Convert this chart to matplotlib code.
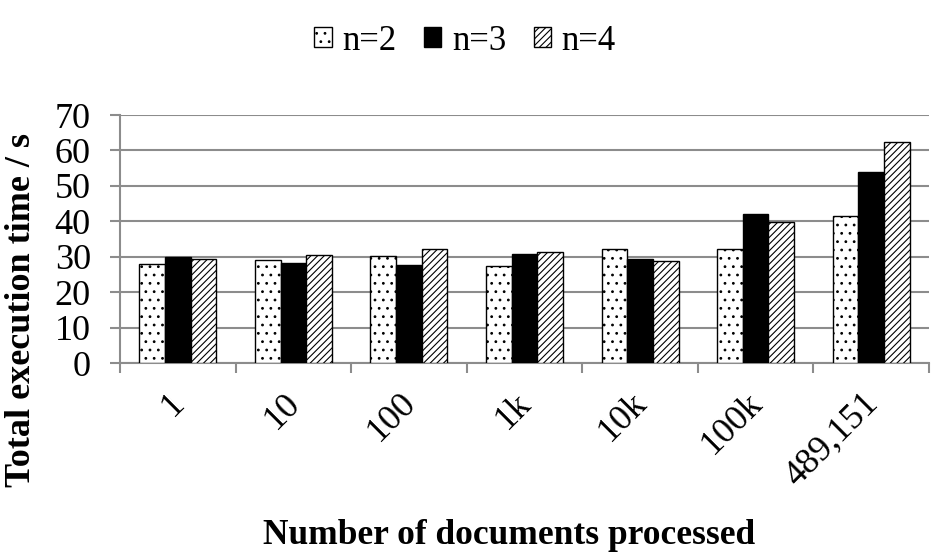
import matplotlib
matplotlib.use("Agg")
import matplotlib.pyplot as plt
import matplotlib.transforms as mtransforms
import numpy as np

# data
categories = ["1", "10", "100", "1k", "10k", "100k", "489,151"]
series_names = ["n=2", "n=3", "n=4"]
n2 = [28.0, 29.0, 30.2, 27.4, 32.1, 32.1, 41.4]
n3 = [30.0, 28.2, 27.8, 30.8, 29.4, 42.1, 53.8]
n4 = [29.3, 30.4, 32.1, 31.3, 28.7, 39.7, 62.3]
y_ticks = [0, 10, 20, 30, 40, 50, 60, 70]

plt.rcParams["font.family"] = ["Liberation Serif", "DejaVu Serif"]
plt.rcParams["hatch.linewidth"] = 0.8

fig = plt.figure(figsize=(9.51, 5.58), dpi=100)
ax = fig.add_axes([120 / 951, 1 - 363 / 558, 809 / 951, 248 / 558])

x = np.arange(len(categories))
w = 0.222
styles = [
    dict(facecolor="white", hatch=".."),
    dict(facecolor="black", hatch=None),
    dict(facecolor="white", hatch="/////"),
]
for i, (vals, name, st) in enumerate(zip([n2, n3, n4], series_names, styles)):
    ax.bar(x + (i - 1) * w, vals, w, label=name, edgecolor="black",
           linewidth=1.0, zorder=3, **st)

ax.set_xlim(-0.5, len(categories) - 0.5)
ax.set_ylim(0, 70)
ax.set_yticks(y_ticks)
ax.tick_params(axis="y", labelsize=26, length=7, width=1.5, color="#8c8c8c",
               direction="out", pad=14)
ax.yaxis.grid(True, color="#8c8c8c", linewidth=1.5, zorder=0)
ax.set_axisbelow(True)

# tick marks at group boundaries, labels at group centres
ax.set_xticks(np.arange(len(categories) + 1) - 0.5)
ax.set_xticklabels([])
ax.tick_params(axis="x", which="major", length=7, width=1.5, color="#8c8c8c")
ax.set_xticks(x, minor=True)
ax.set_xticklabels(categories, minor=True, rotation=45, ha="right",
                   rotation_mode="anchor", fontsize=26)
ax.tick_params(axis="x", which="minor", length=0, pad=17)
shift = mtransforms.ScaledTranslation(-10 / 100, 0, fig.dpi_scale_trans)
for lbl in ax.get_xticklabels(minor=True):
    lbl.set_transform(lbl.get_transform() + shift)

for side in ["top", "right"]:
    ax.spines[side].set_visible(False)
for side in ["left", "bottom"]:
    ax.spines[side].set_color("#8c8c8c")
    ax.spines[side].set_linewidth(1.5)

fig.text(22 / 951, 1 - 310 / 558, "Total execution time / s", rotation=90,
         ha="center", va="center", fontsize=26, fontweight="bold")
fig.text(509 / 951, 1 - 535 / 558, "Number of documents processed",
         ha="center", va="center", fontsize=25.5, fontweight="bold")

fig.legend(loc="center", bbox_to_anchor=(465 / 951, 1 - 41 / 558), ncol=3,
           frameon=False, fontsize=25, handlelength=0.5, handleheight=0.5,
           handletextpad=0.3, columnspacing=0.8)

fig.savefig("out.png", dpi=100)
